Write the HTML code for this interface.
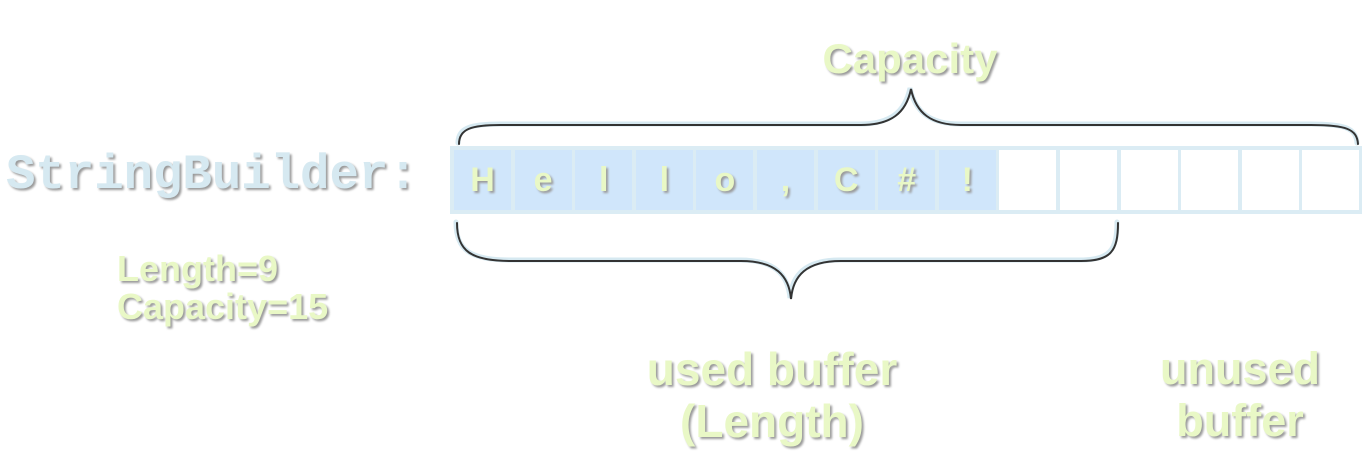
<!DOCTYPE html>
<html><head><style>
html,body{margin:0;padding:0;background:#fff;}
body{width:1370px;height:463px;position:relative;overflow:hidden;font-family:"Liberation Sans",sans-serif;}
.t{position:absolute;color:#e9f8c6;font-weight:bold;text-shadow:2px 2px 2px #9a9a9a;white-space:nowrap;}
.sb{position:absolute;left:6px;top:150px;font-family:"Liberation Mono",monospace;font-weight:bold;font-size:49px;line-height:50px;color:#d6e9f1;text-shadow:2px 2px 2px #9a9a9a;}
.row{position:absolute;left:450px;top:146px;width:912px;height:68px;background:#dbecf4;}
.c{position:absolute;top:4px;height:60px;width:57px;background:#fff;color:#e9f8c6;font-weight:bold;font-size:34px;text-align:center;line-height:60px;text-shadow:2px 2px 2px #9a9a9a;}
.u{background:#d0e6fb;}
</style></head><body>
<div class="t" style="left:0;width:1820px;top:34px;font-size:42px;line-height:50px;text-align:center;">Capacity</div>
<div class="sb">StringBuilder:</div>
<div class="row">
<div class="c u" style="left:4px">H</div>
<div class="c u" style="left:64.6px">e</div>
<div class="c u" style="left:125.2px">l</div>
<div class="c u" style="left:185.8px">l</div>
<div class="c u" style="left:246.4px">o</div>
<div class="c u" style="left:307px">,</div>
<div class="c u" style="left:367.6px">C</div>
<div class="c u" style="left:428.2px">#</div>
<div class="c u" style="left:488.8px">!</div>
<div class="c" style="left:549.4px"></div>
<div class="c" style="left:610px"></div>
<div class="c" style="left:670.6px"></div>
<div class="c" style="left:731.2px"></div>
<div class="c" style="left:791.8px"></div>
<div class="c" style="left:852.4px"></div>
</div>
<svg width="1370" height="463" style="position:absolute;left:0;top:0">
<g fill="none" stroke-linecap="round">
<path d="M458 143 C458 128 470 124 500 124 L860 124 C890 124 905 112 910 88 C915 112 930 124 960 124 L1310 124 C1345 124 1356 128 1357 143" stroke="#d6e9f1" stroke-width="5"/>
<path d="M459 144 C459 129 471 125 501 125 L861 125 C891 125 906 113 911 89 C916 113 931 125 961 125 L1311 125 C1346 125 1357 129 1358 144" stroke="#333" stroke-width="2"/>
<path d="M456 222 C456 250 470 260 510 260 L740 260 C775 260 788 275 790 298 C792 275 805 260 840 260 L1080 260 C1110 260 1117 250 1117 222" stroke="#d6e9f1" stroke-width="5"/>
<path d="M457 223 C457 251 471 261 511 261 L741 261 C776 261 789 276 791 299 C793 276 806 261 841 261 L1081 261 C1111 261 1118 251 1118 223" stroke="#333" stroke-width="2"/>
</g></svg>
<div class="t" style="left:117px;top:250px;font-size:36px;line-height:38px;">Length=9<br>Capacity=15</div>
<div class="t" style="left:472px;width:600px;top:343px;font-size:46px;line-height:52px;text-align:center;">used buffer<br>(Length)</div>
<div class="t" style="left:1090px;width:300px;top:343px;font-size:45px;line-height:52px;text-align:center;">unused<br>buffer</div>
</body></html>
